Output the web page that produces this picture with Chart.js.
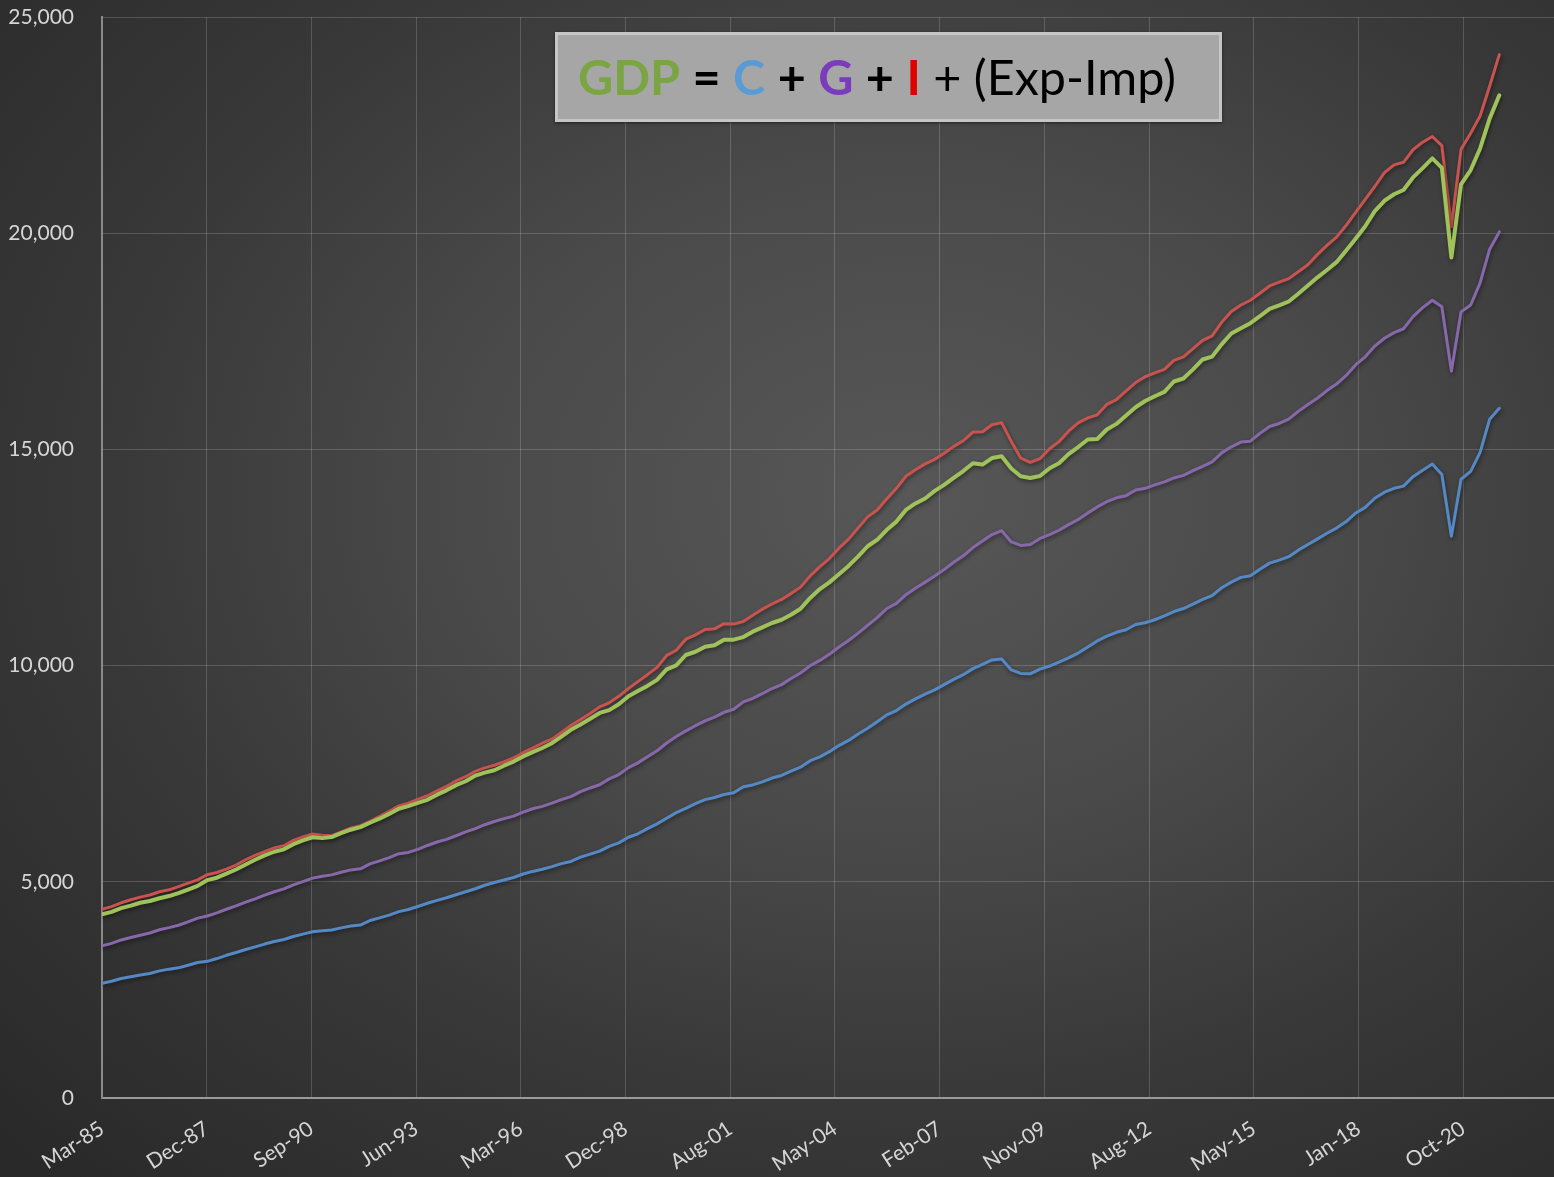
<!DOCTYPE html>
<html>
<head>
<meta charset="utf-8">
<script src="https://cdn.jsdelivr.net/npm/chart.js@4.4.1/dist/chart.umd.min.js"></script>
<style>
  html, body { margin: 0; padding: 0; }
  body {
    width: 1554px; height: 1177px; overflow: hidden; position: relative;
    background: radial-gradient(ellipse 80% 80% at 58% 42%, #575757 0%, #4a4a4a 35%, #383838 65%, #292929 100%);
    font-family: Lato, "Open Sans", sans-serif;
  }
  #chartBox { position: absolute; left: 0; top: 0; width: 1554px; height: 1177px; }
  #title {
    position: absolute; left: 555px; top: 32px; width: 667px; height: 90px;
    box-sizing: border-box; background: #a6a6a6; border: 3px solid #c6c6c6;
    box-shadow: 0 1px 3px rgba(0,0,0,0.5);
  }
  #title .txt {
    position: absolute; left: 20px; top: 11px; white-space: nowrap;
    font-family: Lato, sans-serif; font-size: 48.5px; line-height: 60px; color: #000;
  }
  #title b { font-weight: 700; }
  .cg { color: #7aa542; font-weight: 700; }
  .cc { color: #5b9bd5; font-weight: 700; }
  .cv { color: #7a3bbd; font-weight: 700; }
  .ci { color: #e00000; font-weight: 700; }
</style>
</head>
<body>
<div id="chartBox"><canvas id="c" width="1554" height="1177"></canvas></div>
<div id="title"><div class="txt"><span class="cg">GDP</span> <b>=</b> <span class="cc">C</span> <b>+</b> <span class="cv">G</span> <b>+</b> <span class="ci">I</span> + (Exp-Imp)</div></div>
<script>
// Quarterly series, 1985 Q1 .. 2021 Q3 (billions of dollars)
const firstYear = 1985;
const quarterCount = 147;

// GDP = C + G + I + (Exp - Imp)
const gdp = [
  4250, 4305, 4390, 4450,
  4515, 4555, 4620, 4670,
  4740, 4820, 4905, 5040,
  5095, 5190, 5285, 5400,
  5510, 5610, 5695, 5750,
  5870, 5960, 6030, 6010,
  6035, 6125, 6205, 6265,
  6365, 6460, 6570, 6690,
  6750, 6825, 6895, 7015,
  7115, 7235, 7325, 7455,
  7525, 7580, 7685, 7780,
  7900, 8000, 8095, 8205,
  8360, 8515, 8640, 8770,
  8905, 8970, 9105, 9290,
  9410, 9530, 9670, 9915,
  10005, 10245, 10320, 10435,
  10470, 10600, 10600, 10660,
  10785, 10885, 10985, 11060,
  11175, 11315, 11565, 11770,
  11925, 12115, 12305, 12525,
  12760, 12910, 13140, 13330,
  13600, 13750, 13865, 14040,
  14180, 14340, 14500, 14680,
  14650, 14800, 14840, 14560,
  14380, 14340, 14385, 14565,
  14680, 14890, 15055, 15230,
  15240, 15460, 15590, 15785,
  15975, 16120, 16230, 16330,
  16570, 16640, 16850, 17080,
  17145, 17430, 17680, 17800,
  17920, 18080, 18250, 18330,
  18420, 18600, 18790, 18980,
  19150, 19330, 19600, 19880,
  20160, 20510, 20750, 20900,
  21000, 21290, 21505, 21730,
  21510, 19440, 21130, 21460,
  21960, 22650, 23190
];

// C + G + I
const domesticSpending = [
  4365, 4425, 4515, 4585,
  4645, 4695, 4770, 4815,
  4890, 4970, 5045, 5165,
  5215, 5295, 5385, 5510,
  5610, 5700, 5785, 5835,
  5960, 6040, 6105, 6075,
  6065, 6155, 6245, 6300,
  6400, 6515, 6630, 6755,
  6820, 6905, 6990, 7105,
  7205, 7335, 7430, 7555,
  7635, 7695, 7775, 7865,
  7985, 8090, 8205, 8300,
  8455, 8615, 8750, 8890,
  9045, 9140, 9290, 9470,
  9630, 9790, 9960, 10235,
  10355, 10610, 10710, 10835,
  10850, 10970, 10960, 11020,
  11165, 11305, 11425, 11530,
  11665, 11815, 12075, 12290,
  12475, 12715, 12925, 13185,
  13440, 13600, 13860, 14100,
  14380, 14530, 14665, 14770,
  14910, 15070, 15200, 15400,
  15410, 15570, 15620, 15180,
  14800, 14700, 14785, 15015,
  15180, 15420, 15615, 15730,
  15800, 16040, 16150, 16355,
  16545, 16680, 16770, 16850,
  17060, 17140, 17330, 17520,
  17625, 17940, 18190, 18340,
  18450, 18610, 18780, 18870,
  18950, 19110, 19270, 19510,
  19720, 19910, 20180, 20490,
  20780, 21080, 21400, 21580,
  21640, 21930, 22105, 22237,
  22025, 20150, 21940, 22310,
  22710, 23400, 24130
];

// C + G
const consumptionPlusGovernment = [
  3520, 3575, 3655, 3710,
  3765, 3815, 3890, 3940,
  3995, 4075, 4160, 4210,
  4280, 4365, 4445, 4530,
  4605, 4690, 4770, 4835,
  4930, 5005, 5085, 5130,
  5160, 5220, 5275, 5300,
  5415, 5485, 5560, 5650,
  5680, 5750, 5840, 5920,
  5980, 6065, 6155, 6230,
  6320, 6395, 6460, 6520,
  6610, 6690, 6745, 6820,
  6900, 6970, 7085, 7170,
  7245, 7380, 7480, 7640,
  7750, 7890, 8030, 8210,
  8360, 8490, 8610, 8720,
  8810, 8920, 8990, 9160,
  9240, 9350, 9470, 9560,
  9700, 9830, 10000, 10120,
  10260, 10430, 10580, 10750,
  10930, 11110, 11320, 11440,
  11640, 11790, 11930, 12070,
  12220, 12390, 12540, 12730,
  12880, 13030, 13120, 12860,
  12780, 12800, 12940, 13030,
  13130, 13260, 13380, 13530,
  13670, 13790, 13880, 13930,
  14060, 14100, 14180, 14250,
  14340, 14400, 14510, 14610,
  14710, 14920, 15060, 15170,
  15190, 15370, 15530, 15600,
  15700, 15880, 16040, 16190,
  16360, 16510, 16710, 16960,
  17140, 17390, 17570, 17700,
  17790, 18070, 18280, 18450,
  18300, 16810, 18180, 18340,
  18850, 19630, 20030
];

// C (personal consumption)
const consumption = [
  2655, 2700, 2765, 2805,
  2845, 2880, 2940, 2980,
  3010, 3070, 3135, 3160,
  3225, 3300, 3365, 3435,
  3495, 3560, 3620, 3665,
  3735, 3790, 3845, 3870,
  3885, 3935, 3980, 4000,
  4105, 4165, 4230, 4310,
  4360, 4430, 4505, 4570,
  4630, 4700, 4770, 4840,
  4920, 4985, 5040, 5100,
  5180, 5240, 5290, 5350,
  5420, 5470, 5570, 5640,
  5710, 5820, 5900, 6030,
  6110, 6230, 6340, 6470,
  6600, 6700, 6810, 6900,
  6950, 7020, 7060, 7200,
  7240, 7310, 7400, 7460,
  7560, 7650, 7800, 7890,
  8010, 8150, 8270, 8420,
  8550, 8700, 8860, 8960,
  9110, 9230, 9340, 9440,
  9560, 9680, 9790, 9930,
  10030, 10130, 10150, 9900,
  9820, 9810, 9920, 9990,
  10080, 10180, 10290, 10430,
  10570, 10680, 10770, 10830,
  10950, 10990, 11060, 11150,
  11250, 11320, 11420, 11530,
  11620, 11800, 11930, 12040,
  12080, 12230, 12370, 12440,
  12520, 12670, 12800, 12930,
  13060, 13180, 13330, 13530,
  13660, 13870, 14010, 14100,
  14150, 14370, 14520, 14660,
  14420, 12990, 14310, 14490,
  14930, 15700, 15950
];

// X-axis tick labels (date axis, one label every 999 days from Mar-85)
const tickLabels = ['Mar-85','Dec-87','Sep-90','Jun-93','Mar-96','Dec-98','Aug-01',
                    'May-04','Feb-07','Nov-09','Aug-12','May-15','Jan-18','Oct-20'];
const tickStepDays = 999;

// Y-axis ticks
const yMin = 0, yMax = 25000, yStep = 5000;

// ---- build quarter-end dates as day numbers since 1 Jan 1985
const DAY = 86400000;
const origin = Date.UTC(1985, 0, 1);
const quarterDays = [];
for (let i = 0; i < quarterCount; i++) {
  const y = firstYear + Math.floor(i / 4);
  const q = i % 4;
  quarterDays.push(Math.round((Date.UTC(y, 3 * (q + 1), 0) - origin) / DAY));
}
const firstDay = quarterDays[0];
const tickDays = tickLabels.map((_, k) => firstDay + k * tickStepDays);
const toPoints = arr => arr.map((v, i) => ({ x: quarterDays[i], y: v }));

const shadowPlugin = {
  id: 'lineShadow',
  beforeDatasetsDraw(chart) {
    const c = chart.ctx; c.save();
    c.shadowColor = 'rgba(0,0,0,0.45)'; c.shadowBlur = 4; c.shadowOffsetX = 1; c.shadowOffsetY = 2;
  },
  afterDatasetsDraw(chart) { chart.ctx.restore(); }
};

const labelFont = { family: 'Lato', size: 21 };
const gridColor = 'rgba(255,255,255,0.17)';

new Chart(document.getElementById('c'), {
  type: 'line',
  data: {
    datasets: [
      { label: 'GDP', data: toPoints(gdp), borderColor: '#9fc25b', borderWidth: 4, order: 0 },
      { label: 'C + G + I', data: toPoints(domesticSpending), borderColor: '#c9534f', borderWidth: 3, order: 1 },
      { label: 'C + G', data: toPoints(consumptionPlusGovernment), borderColor: '#8768ab', borderWidth: 3, order: 2 },
      { label: 'C', data: toPoints(consumption), borderColor: '#5489c6', borderWidth: 3, order: 3 }
    ]
  },
  options: {
    responsive: false, animation: false, maintainAspectRatio: false,
    elements: { point: { radius: 0 }, line: { tension: 0, borderJoinStyle: 'round', borderCapStyle: 'round', fill: false } },
    layout: { padding: { top: 17, right: 0, left: 0, bottom: 0 } },
    plugins: { legend: { display: false }, tooltip: { enabled: false }, title: { display: false } },
    scales: {
      x: {
        type: 'linear', min: firstDay, max: firstDay + 13854,
        afterBuildTicks: s => { s.ticks = tickDays.map(v => ({ value: v })); },
        afterFit: s => { s.height = 79; s.paddingLeft = 0; s.paddingRight = 0; },
        ticks: {
          autoSkip: false, minRotation: 33, maxRotation: 33, padding: 18,
          color: '#d6d6d6', font: labelFont,
          callback: (v, i) => tickLabels[i]
        },
        grid: { color: gridColor, lineWidth: 1, drawTicks: false },
        border: { color: '#9a9a9a', width: 2 }
      },
      y: {
        min: yMin, max: yMax,
        afterFit: s => { s.width = 102; s.paddingTop = 0; s.paddingBottom = 0; },
        ticks: {
          stepSize: yStep, padding: 28, color: '#d6d6d6', font: labelFont,
          callback: v => v.toLocaleString('en-US')
        },
        grid: { color: gridColor, lineWidth: 1, drawTicks: false },
        border: { color: '#8a8a8a', width: 2 }
      }
    }
  },
  plugins: [shadowPlugin]
});
</script>
</body>
</html>
